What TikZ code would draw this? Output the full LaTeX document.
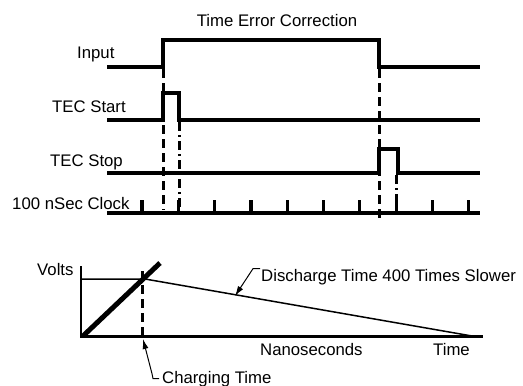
\documentclass[tikz,border=0pt]{standalone}
\usepackage{fontspec}
\setmainfont{Liberation Sans}
\usetikzlibrary{scopes,arrows.meta}

\begin{document}
\begin{tikzpicture}[x=1pt,y=-1pt,
      sig/.style={line width=3.2pt},
      tline/.style={line width=3pt,dash pattern=on 9pt off 5pt},
      tdot/.style={line width=3pt,dash pattern=on 9pt off 4pt on 2pt off 4pt},
      lbl/.style={font=\fontsize{16.75}{20}\selectfont,inner sep=0pt},
      lead/.style={line width=1pt,-{Latex[length=10pt,width=6pt]}},
      slope/.style={line width=1.5pt}
]
      \useasboundingbox (0,0) rectangle (523,386);
      \node[lbl,anchor=base] (title) at (277,26) {Time Error Correction};
      % signal names
      \node[lbl,anchor=base west] (in) at (77,58) {Input};
      \node[lbl,anchor=base west] (start) at (52,112) {TEC Start};
      \node[lbl,anchor=base west] (stop) at (50,166) {TEC Stop};
      \node[lbl,anchor=base west] (clk) at (12,209) {100 nSec Clock};
      % waveforms
      {[sig]
          \draw (107,67) -- (163,67) -- (163,40) -- (379,40) -- (379,67) -- (480,67);
          \draw (107,120) -- (163,120) -- (163,93) -- (179,93) -- (179,120) -- (480,120);
          \draw (107,173) -- (379,173) -- (379,149) -- (398,149) -- (398,173) -- (480,173);
          \draw (107,213) -- (480,213);
          \foreach \t in {0,...,9}
              \draw (142+36.3*\t,213) -- ++(0,-13);
      }
      % timing marks
      \draw[tline] (163,69) -- (163,210);
      \draw[tdot] (179,122) -- (179,213);
      \draw[tline] (379,69) -- (379,220);
      \draw[tdot] (396,175) -- (396,201);
      % charge and discharge
      \draw[line width=2pt] (81,266) -- (81,336);
      \draw[line width=3pt] (80,336) -- (483,336);
      \draw[slope] (81,279) -- (145,279) -- (472,336);
      \draw[line width=5pt] (83,336) -- (160,263);
      \draw[tline] (142,271) -- (142,336);
      \node[lbl,anchor=base west] (volts) at (37,275) {Volts};
      \node[lbl,anchor=base west] (ns) at (260,355) {Nanoseconds};
      \node[lbl,anchor=base west] (time) at (433,355) {Time};
      \node[lbl,anchor=base west] (dis) at (261,281) {Discharge Time 400 Times Slower};
      \node[lbl,anchor=base west] (chg) at (162,383) {Charging Time};
      \coordinate (dtip) at (235,296);
      \coordinate (ctip) at (143,339);
      \draw[lead] ([xshift=-1pt]dis.north west) -- ++(-7,0) -- (dtip);
      \draw[lead] ([xshift=-3pt]chg.west) -- ++(-6,0) -- ++(-1,-5) -- (ctip);
\end{tikzpicture}
\end{document}
